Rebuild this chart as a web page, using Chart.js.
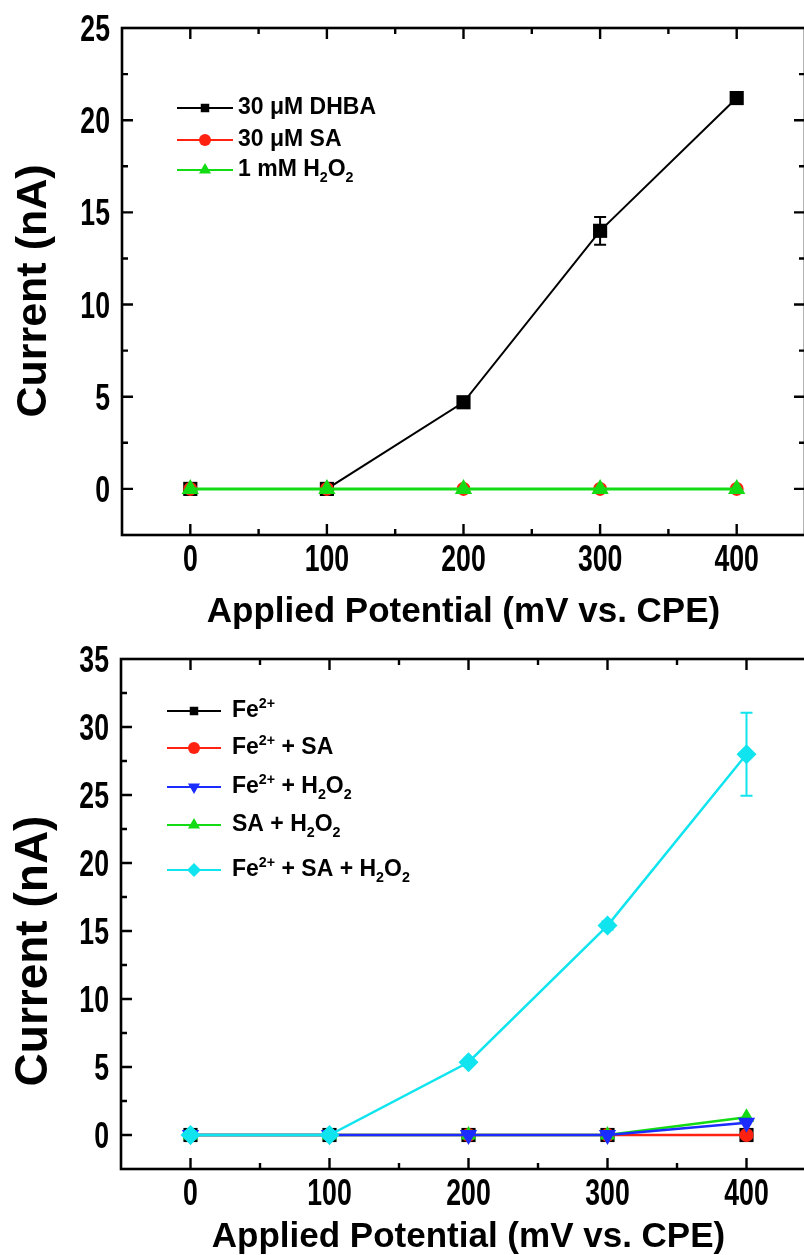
<!DOCTYPE html>
<html><head><meta charset="utf-8">
<script src="https://cdn.jsdelivr.net/npm/chart.js@4.4.1/dist/chart.umd.min.js"></script>
<style>
html,body{margin:0;padding:0;background:#fff;overflow:hidden;width:804px;height:1255px;}
#w1{position:absolute;left:0;top:0;width:830px;height:640px;}
#w2{position:absolute;left:0;top:640px;width:830px;height:640px;}
</style></head><body>
<div id="w1"><canvas id="c1"></canvas></div>
<div id="w2"><canvas id="c2"></canvas></div>
<script>
// ---------- data ----------
const potentials = [0, 100, 200, 300, 400];
const xTickValues = [0, 100, 200, 300, 400];
const yTickValuesTop = [0, 5, 10, 15, 20, 25];
const yTickValuesBottom = [0, 5, 10, 15, 20, 25, 30, 35];

// top panel
const dhba = [0, 0, 4.7, 14.0, 21.2];
const dhbaErr = [0, 0, 0.25, 0.75, 0.2];
const sa = [0, 0, 0, 0, 0];
const h2o2 = [0, 0, 0, 0, 0];

// bottom panel
const fe = [0, 0, 0, 0, 0];
const feSa = [0, 0, 0, 0, 0];
const feH2o2 = [0, 0, 0, 0, 0.9];
const saH2o2 = [0, 0, 0, 0, 1.3];
const feSaH2o2 = [0, 0, 5.35, 15.4, 28.0];
const feSaH2o2Err = [0, 0, 0.2, 0.3, 3.05];

const xTitle = 'Applied Potential (mV vs. CPE)';
const yTitle = 'Current (nA)';

// legend label segments (sub / sup rendered as real text)
const legendTop = [
  [{t: '30 \u03bcM DHBA'}],
  [{t: '30 \u03bcM SA'}],
  [{t: '1 mM H'}, {t: '2', s: 'sub'}, {t: 'O'}, {t: '2', s: 'sub'}]
];
const legendBottom = [
  [{t: 'Fe'}, {t: '2+', s: 'sup'}],
  [{t: 'Fe'}, {t: '2+', s: 'sup'}, {t: ' + SA'}],
  [{t: 'Fe'}, {t: '2+', s: 'sup'}, {t: ' + H'}, {t: '2', s: 'sub'}, {t: 'O'}, {t: '2', s: 'sub'}],
  [{t: 'SA + H'}, {t: '2', s: 'sub'}, {t: 'O'}, {t: '2', s: 'sub'}],
  [{t: 'Fe'}, {t: '2+', s: 'sup'}, {t: ' + SA + H'}, {t: '2', s: 'sub'}, {t: 'O'}, {t: '2', s: 'sub'}]
];

// ---------- styling ----------
const SANS = '"Liberation Sans", Arial, sans-serif';
const BLACK = '#000000', RED = '#ff2210', GREEN = '#14dc14', BLUE = '#1a2cff', CYAN = '#10e4ee';
const TICK_FONT = 'bold 37px ' + SANS;
const TICK_SQUEEZE = 0.72;

function pts(vals) { return potentials.map((p, i) => ({x: p, y: vals[i]})); }

const frameTicks = {
  id: 'frameTicks',
  afterDraw(chart, args, o) {
    const {ctx, chartArea: {left, right, top, bottom}, scales: {x, y}} = chart;
    ctx.save();
    ctx.strokeStyle = '#000';
    ctx.lineWidth = 2.6;
    ctx.strokeRect(left, top, right - left, bottom - top);
    ctx.lineWidth = 2.4;
    ctx.beginPath();
    for (let v = x.min + o.xMinor; v < x.max; v += o.xMinor) {
      const px = x.getPixelForValue(v);
      const len = o.xMajor.includes(v) ? 11 : 6;
      ctx.moveTo(px, bottom); ctx.lineTo(px, bottom - len);
      ctx.moveTo(px, top); ctx.lineTo(px, top + len);
    }
    for (let v = y.min + o.yMinor; v < y.max - 1e-9; v += o.yMinor) {
      const py = y.getPixelForValue(v);
      const len = o.yMajor.includes(Math.round(v * 100) / 100) ? 11 : 6;
      ctx.moveTo(left, py); ctx.lineTo(left + len, py);
      ctx.moveTo(right, py); ctx.lineTo(right - len, py);
    }
    ctx.stroke();
    // tick labels (condensed bold, as in the original figure)
    ctx.fillStyle = '#000';
    ctx.font = TICK_FONT;
    ctx.textBaseline = 'alphabetic';
    x.ticks.forEach(t => {
      const px = x.getPixelForValue(t.value);
      ctx.save();
      ctx.translate(px, bottom + 36);
      ctx.scale(TICK_SQUEEZE, 1);
      ctx.textAlign = 'center';
      ctx.fillText(String(t.value), 0, 0);
      ctx.restore();
    });
    y.ticks.forEach(t => {
      const py = y.getPixelForValue(t.value);
      ctx.save();
      ctx.translate(left - 12, py + 13);
      ctx.scale(TICK_SQUEEZE, 1);
      ctx.textAlign = 'right';
      ctx.fillText(String(t.value), 0, 0);
      ctx.restore();
    });
    ctx.restore();
  }
};

const errorBars = {
  id: 'errorBars',
  afterDatasetsDraw(chart) {
    const {ctx, scales: {x, y}} = chart;
    chart.data.datasets.forEach((ds) => {
      if (!ds.errors) return;
      ctx.save();
      ctx.strokeStyle = ds.borderColor;
      ctx.lineWidth = 2;
      ds.data.forEach((p, i) => {
        const e = ds.errors[i];
        if (!e) return;
        const px = x.getPixelForValue(p.x);
        const y1 = y.getPixelForValue(p.y + e), y2 = y.getPixelForValue(p.y - e);
        ctx.beginPath();
        ctx.moveTo(px, y1); ctx.lineTo(px, y2);
        ctx.moveTo(px - 6, y1); ctx.lineTo(px + 6, y1);
        ctx.moveTo(px - 6, y2); ctx.lineTo(px + 6, y2);
        ctx.stroke();
      });
      ctx.restore();
    });
  }
};

function drawRich(ctx, segs, x, y, size) {
  let cx = x;
  ctx.textBaseline = 'middle';
  ctx.textAlign = 'left';
  segs.forEach(sg => {
    let fs = size, dy = 0;
    if (sg.s === 'sub') { fs = size * 0.62; dy = size * 0.36; }
    if (sg.s === 'sup') { fs = size * 0.62; dy = -size * 0.32; }
    ctx.font = 'bold ' + fs + 'px ' + SANS;
    ctx.fillText(sg.t, cx, y + dy);
    cx += ctx.measureText(sg.t).width;
  });
}

const legendTitle = {
  id: 'legendTitle',
  afterDraw(chart, args, o) {
    const {ctx} = chart;
    ctx.save();
    chart.data.datasets.forEach((ds, i) => {
      const ry = o.rows[i];
      ctx.strokeStyle = ds.borderColor;
      ctx.fillStyle = ds.borderColor;
      ctx.lineWidth = 2;
      ctx.beginPath();
      ctx.moveTo(o.lx0, ry); ctx.lineTo(o.lx1, ry);
      ctx.stroke();
      Chart.helpers.drawPoint(ctx, {pointStyle: ds.pointStyle, rotation: ds.pointRotation || 0,
        radius: o.markR[i], borderWidth: 0}, (o.lx0 + o.lx1) / 2, ry);
      ctx.fillStyle = '#000';
      drawRich(ctx, o.labels[i], o.tx, ry, o.fontSize);
    });
    ctx.translate(o.ytx, o.yty);
    ctx.rotate(-Math.PI / 2);
    ctx.fillStyle = '#000';
    ctx.font = 'bold ' + o.ytSize + 'px ' + SANS;
    ctx.textAlign = 'center';
    ctx.textBaseline = 'middle';
    ctx.fillText(yTitle, 0, 0);
    ctx.restore();
  }
};

function makeChart(id, datasets, cfg) {
  return new Chart(document.getElementById(id), {
    type: 'line',
    data: {datasets},
    plugins: [frameTicks, errorBars, legendTitle],
    options: {
      responsive: true, maintainAspectRatio: false, animation: false,
      layout: {padding: {left: 0, right: cfg.padRight, top: cfg.padTop, bottom: 0}},
      plugins: {
        legend: {display: false}, tooltip: {enabled: false},
        frameTicks: {xMinor: 50, xMajor: xTickValues, yMinor: 2.5, yMajor: cfg.yTicks},
        legendTitle: cfg.legend
      },
      scales: {
        x: {
          type: 'linear', min: -50, max: 450,
          grid: {display: false, drawTicks: false}, border: {display: false},
          afterBuildTicks: s => { s.ticks = xTickValues.map(v => ({value: v})); },
          afterFit: s => { s.height = cfg.xHeight; },
          ticks: {display: false},
          title: {display: true, text: xTitle, color: '#000', padding: {top: 0, bottom: cfg.xTitlePad},
            font: {family: SANS, size: 35, weight: 'bold'}}
        },
        y: {
          type: 'linear', min: -2.5, max: cfg.yMax,
          grid: {display: false, drawTicks: false}, border: {display: false},
          afterBuildTicks: s => { s.ticks = cfg.yTicks.map(v => ({value: v})); },
          afterFit: s => { s.width = cfg.yWidth; },
          ticks: {display: false}
        }
      }
    }
  });
}

makeChart('c1', [
  {label: '30 \u03bcM DHBA', data: pts(dhba), errors: dhbaErr, borderColor: BLACK, backgroundColor: BLACK,
    pointStyle: 'rect', pointRadius: 10, pointBorderWidth: 0, borderWidth: 2, order: 3},
  {label: '30 \u03bcM SA', data: pts(sa), borderColor: RED, backgroundColor: RED,
    pointStyle: 'circle', pointRadius: 7, pointBorderWidth: 0, borderWidth: 2, order: 2},
  {label: '1 mM H2O2', data: pts(h2o2), borderColor: GREEN, backgroundColor: GREEN,
    pointStyle: 'triangle', pointRadius: 10, pointBorderWidth: 0, borderWidth: 3, order: 1}
], {
  padRight: 25, padTop: 28, xHeight: 105, yWidth: 122, yMax: 25, yTicks: yTickValuesTop,
  xTitlePad: 7,
  legend: {rows: [108, 140, 170], lx0: 177, lx1: 233, tx: 238, fontSize: 23, markR: [6, 6, 7],
    labels: legendTop, ytx: 34, yty: 291, ytSize: 43}
});

makeChart('c2', [
  {label: 'Fe2+', data: pts(fe), borderColor: BLACK, backgroundColor: BLACK,
    pointStyle: 'rect', pointRadius: 10, pointBorderWidth: 0, borderWidth: 2, order: 5},
  {label: 'Fe2+ + SA', data: pts(feSa), borderColor: RED, backgroundColor: RED,
    pointStyle: 'circle', pointRadius: 7, pointBorderWidth: 0, borderWidth: 2.5, order: 4},
  {label: 'Fe2+ + H2O2', data: pts(feH2o2), borderColor: BLUE, backgroundColor: BLUE,
    pointStyle: 'triangle', pointRotation: 180, pointRadius: 10, pointBorderWidth: 0, borderWidth: 2.5, order: 2},
  {label: 'SA + H2O2', data: pts(saH2o2), borderColor: GREEN, backgroundColor: GREEN,
    pointStyle: 'triangle', pointRadius: 9, pointBorderWidth: 0, borderWidth: 2.5, order: 3},
  {label: 'Fe2+ + SA + H2O2', data: pts(feSaH2o2), errors: feSaH2o2Err, borderColor: CYAN, backgroundColor: CYAN,
    pointStyle: 'rectRot', pointRadius: 10, pointBorderWidth: 0, borderWidth: 2.5, order: 1}
], {
  padRight: 14, padTop: 19, xHeight: 111, yWidth: 121, yMax: 35, yTicks: yTickValuesBottom,
  xTitlePad: 22,
  legend: {rows: [71, 108, 147, 185, 230], lx0: 167, lx1: 221, tx: 232, fontSize: 23, markR: [6, 6, 7, 7, 7],
    labels: legendBottom, ytx: 34, yty: 311, ytSize: 46}
});
</script>
</body></html>
